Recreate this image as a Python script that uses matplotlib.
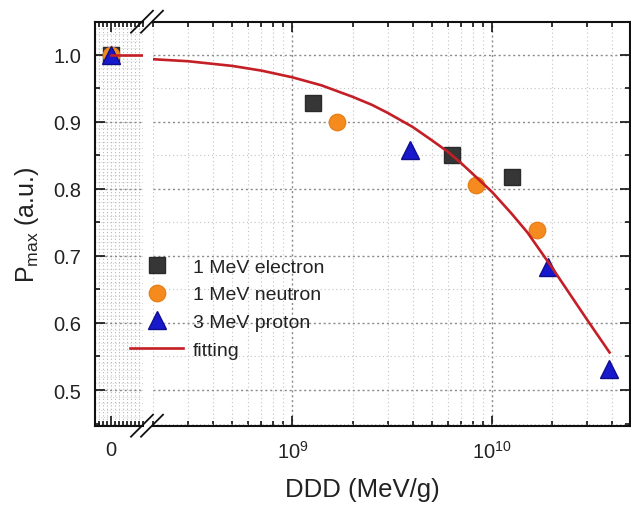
import numpy as np
import matplotlib
matplotlib.use('Agg')
import matplotlib.pyplot as plt
from matplotlib.ticker import MultipleLocator, LogLocator, NullFormatter, FixedLocator, FixedFormatter
from matplotlib.lines import Line2D

plt.rcParams['font.family'] = ['Liberation Sans', 'DejaVu Sans']
plt.rcParams['mathtext.fontset'] = 'custom'
plt.rcParams['mathtext.rm'] = 'Liberation Sans'
plt.rcParams['mathtext.it'] = 'Liberation Sans:italic'
plt.rcParams['mathtext.bf'] = 'Liberation Sans:bold'

# ---------------- data ----------------
electron_ddd = [0, 1.27e9, 6.3e9, 1.26e10]
electron_p = [1.0, 0.927, 0.850, 0.818]
neutron_ddd = [0, 1.68e9, 8.3e9, 1.68e10]
neutron_p = [1.0, 0.900, 0.806, 0.739]
proton_ddd = [0, 3.86e9, 1.91e10, 3.86e10]
proton_p = [1.0, 0.857, 0.683, 0.532]
fit_ddd = [0, 2.0e8, 3.0e8, 5.0e8, 7.0e8, 1.0e9, 1.4e9, 2.0e9, 2.5e9, 3.0e9,
           4.0e9, 5.0e9, 6.0e9, 7.0e9, 8.0e9, 1.0e10, 1.25e10, 1.5e10,
           2.0e10, 2.5e10, 3.0e10, 3.87e10]
fit_p = [1.0, 0.993, 0.990, 0.983, 0.976, 0.966, 0.954, 0.937, 0.925, 0.913,
         0.892, 0.872, 0.855, 0.838, 0.822, 0.795, 0.763, 0.735,
         0.682, 0.639, 0.604, 0.556]
labels = ['1 MeV electron', '1 MeV neutron', '3 MeV proton', 'fitting']
y_ticks = [0.5, 0.6, 0.7, 0.8, 0.9, 1.0]

# ---------------- styles ----------------
W, H = 631, 506
sq_kw = dict(marker='s', ls='none', ms=11.3, color='#363636', mec='#2a2a2a', zorder=4)
ci_kw = dict(marker='o', ls='none', ms=11.8, color='#F58B1F', mec='#E8801A', zorder=4)
tr_kw = dict(marker='^', ls='none', ms=13.5, color='#1818CC', mec='#0E0E8C', mew=1.0, zorder=4)
fit_kw = dict(color='#C41E26', lw=1.9, zorder=5)

fig = plt.figure(figsize=(W / 100, H / 100), dpi=100)
top_px, bot_px = 22.7, 426.7
b = 1 - bot_px / H
h = (bot_px - top_px) / H
axL = fig.add_axes([95 / W, b, (143 - 95) / W, h])
axR = fig.add_axes([152.8 / W, b, (630 - 152.8) / W, h])

ylim = (0.4468, 1.0489)
for ax in (axL, axR):
    ax.set_ylim(*ylim)
    for s in ax.spines.values():
        s.set_linewidth(1.5)
        s.set_color('#111111')
    ax.set_facecolor('none')

# --- left (linear, around 0) segment ---
axL.set_xlim(-1e8, 2e8)
axL.spines['right'].set_visible(False)
axL.xaxis.set_major_locator(FixedLocator([0]))
axL.xaxis.set_major_formatter(FixedFormatter(['0']))
axL.xaxis.set_minor_locator(MultipleLocator(2.5e7))
axL.yaxis.set_major_locator(FixedLocator(y_ticks))
axL.yaxis.set_minor_locator(MultipleLocator(0.05))
axL.tick_params(which='both', direction='in', top=True, right=False, width=1.2, colors='#111111')
axL.tick_params(which='major', length=7, labelsize=14.5, pad=10, labelcolor='#222222')
axL.tick_params(which='minor', length=3.5)
axL.grid(True, which='both', axis='x', color='#b8b8b8', ls=(0, (1, 2)), lw=0.8)
axL.hlines(np.arange(0.45, 1.05, 0.01), -1e8, 2e8, colors='#d0d0d0', linestyles=(0, (1, 2)), lw=0.7, zorder=0)
axL.grid(True, which='major', axis='y', color='#8a8a8a', ls=(0, (1.5, 2)), lw=1.0)
axL.yaxis.set_major_formatter(matplotlib.ticker.FormatStrFormatter('%.1f'))

# --- right (log) segment ---
axR.set_xscale('log')
axR.set_xlim(2e8, 4.9e10)
axR.spines['left'].set_visible(False)
axR.xaxis.set_major_locator(LogLocator(base=10))
axR.xaxis.set_minor_locator(LogLocator(base=10, subs=np.arange(2, 10)))
axR.xaxis.set_minor_formatter(NullFormatter())
axR.yaxis.set_major_locator(FixedLocator(y_ticks))
axR.yaxis.set_minor_locator(MultipleLocator(0.05))
axR.tick_params(which='both', direction='in', top=True, right=True, left=False,
                labelleft=False, width=1.2, colors='#111111')
axR.tick_params(which='major', length=7, labelsize=14.5, pad=10, labelcolor='#222222')
axR.tick_params(which='minor', length=3.5)
axR.grid(True, which='major', color='#8a8a8a', ls=(0, (1.5, 2)), lw=1.0)
axR.grid(True, which='minor', color='#c4c4c4', ls=(0, (1, 2.5)), lw=0.8)

# --- plot data ---
n0 = 1
axL.plot(electron_ddd[:n0], electron_p[:n0], **sq_kw, clip_on=False)
axL.plot(neutron_ddd[:n0], neutron_p[:n0], **ci_kw, clip_on=False)
axL.plot(proton_ddd[:n0], proton_p[:n0], **tr_kw, clip_on=False)
axL.plot([fit_ddd[0], axL.get_xlim()[1]], [fit_p[0], fit_p[0]], **fit_kw)

h1, = axR.plot(electron_ddd[n0:], electron_p[n0:], **sq_kw)
h2, = axR.plot(neutron_ddd[n0:], neutron_p[n0:], **ci_kw)
h3, = axR.plot(proton_ddd[n0:], proton_p[n0:], **tr_kw)
h4, = axR.plot(fit_ddd[1:], fit_p[1:], **fit_kw)

# --- labels ---
axL.set_ylabel(r'P$_{\mathrm{max}}$ (a.u.)', fontsize=18, color='#222222', labelpad=9)
fig.text((95 + 630) / 2 / W, 1 - 490 / H, 'DDD (MeV/g)', fontsize=18.5,
         ha='center', va='center', color='#222222')

# --- axis break marks ---
for y0 in (top_px, bot_px):
    for cx in (142, 152):
        x1, y1 = cx - 11, y0 + 11
        x2, y2 = cx + 11, y0 - 11
        fig.add_artist(Line2D([x1 / W, x2 / W], [1 - y1 / H, 1 - y2 / H],
                              transform=fig.transFigure, color='#111111', lw=1.3))

# --- legend ---
fig.legend([h1, h2, h3, h4], labels, loc='upper left',
           bbox_to_anchor=(130 / W, 1 - 259 / H), frameon=False, fontsize=14,
           handlelength=2.75, handletextpad=0.5, labelspacing=0.52,
           borderpad=0, borderaxespad=0, numpoints=1, labelcolor='#222222')

fig.savefig('out.png', dpi=100)
